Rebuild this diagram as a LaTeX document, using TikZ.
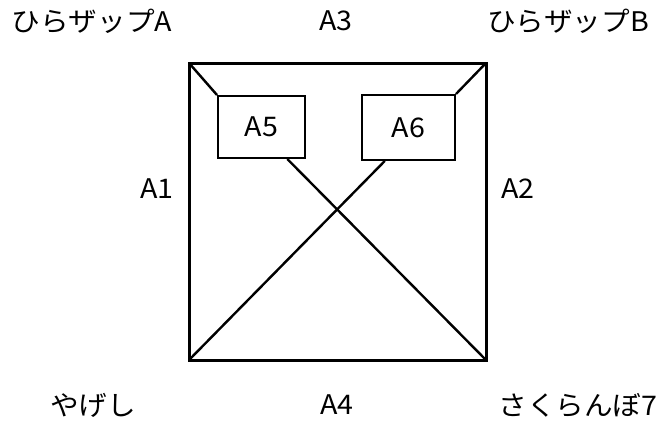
\documentclass[tikz,border=0pt]{standalone}
\usepackage{fontspec}
\newfontfamily\jpfont[FakeStretch=1.06]{Noto Sans CJK JP}
\usepackage{tikz}
\usetikzlibrary{calc}
\tikzset{
  frame/.style={line width=3pt, line cap=rect},
  cross/.style={line width=2.4pt},
  panel/.style={rectangle, draw, line width=2pt, inner sep=0pt,
                font=\jpfont\fontsize{27}{30}\selectfont},
  lbl/.style={font=\jpfont\fontsize{27}{30}\selectfont, inner sep=0pt},
}
\begin{document}
\begin{tikzpicture}[x=1pt, y=-1pt]
  \useasboundingbox (0,0) rectangle (668,421);
  %% outer square
  \coordinate (tl) at (189,63);
  \coordinate (tr) at (486,63);
  \coordinate (br) at (486,360);
  \coordinate (bl) at (189,360);
  \draw[frame] (tl) -- (tr) -- (br) -- (bl) -- cycle;
  %% inner boxes
  \node[panel, minimum width=87pt, minimum height=62pt] (a5) at (261.5,127) {A5};
  \node[panel, minimum width=93pt, minimum height=65pt] (a6) at (408.5,127.5) {A6};
  %% connectors
  \draw[cross] (tl) -- (a5.north west);
  \draw[cross] (tr) -- (a6.north east);
  \draw[cross] (br) -- ($(a5.south west)!0.79!(a5.south east)$);
  \draw[cross] (bl) -- ($(a6.south west)!0.25!(a6.south east)$);
  %% labels
  \node[lbl] (hza) at (92,21) {ひらザップA};
  \node[lbl] (a3)  at (336,21) {A3};
  \node[lbl] (hzb) at (568,21) {ひらザップB};
  \node[lbl] (a1)  at (157,189) {A1};
  \node[lbl] (a2)  at (518,189) {A2};
  \node[lbl] (yg)  at (93,405) {やげし};
  \node[lbl] (a4)  at (337,405) {A4};
  \node[lbl] (sk)  at (578,405) {さくらんぼ7};
\end{tikzpicture}
\end{document}
